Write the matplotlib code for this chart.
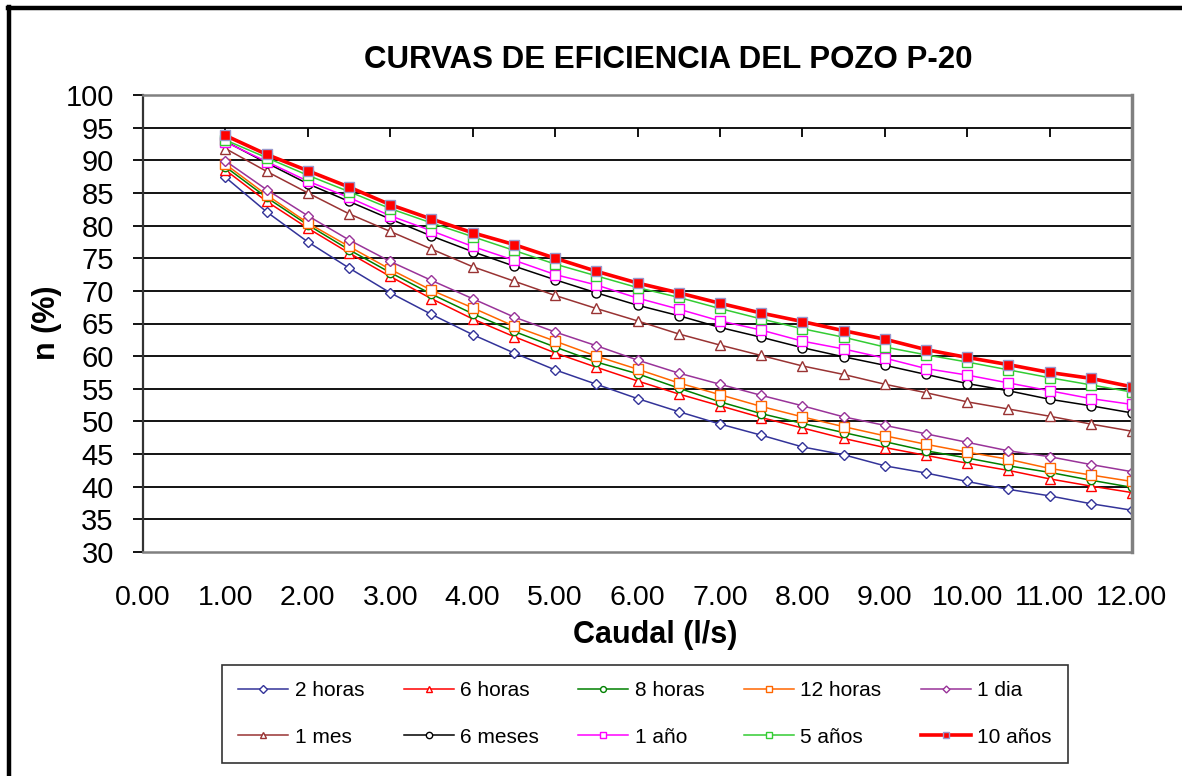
"""Curvas de eficiencia del pozo P-20."""

import matplotlib

matplotlib.use("Agg")

import matplotlib.pyplot as plt
from matplotlib.lines import Line2D


# ===========================
# Datos
# ===========================

caudal = [1.0, 1.5, 2.0, 2.5, 3.0, 3.5, 4.0, 4.5, 5.0, 5.5, 6.0, 6.5,
          7.0, 7.5, 8.0, 8.5, 9.0, 9.5, 10.0, 10.5, 11.0, 11.5, 12.0]

dos_horas = [87.4, 82.1, 77.5, 73.5, 69.7, 66.4, 63.3, 60.5, 57.9, 55.7, 53.5, 51.5,
             49.6, 47.9, 46.1, 44.9, 43.2, 42.1, 40.8, 39.6, 38.6, 37.4, 36.4]
seis_horas = [88.5, 83.7, 79.6, 75.8, 72.2, 68.8, 65.7, 63.0, 60.5, 58.3, 56.2, 54.2,
              52.4, 50.6, 49.0, 47.4, 46.0, 44.8, 43.6, 42.5, 41.2, 40.1, 39.1]
ocho_horas = [89.0, 84.3, 80.1, 76.3, 72.8, 69.5, 66.5, 63.8, 61.4, 59.1, 57.3, 55.1,
              53.0, 51.2, 49.7, 48.3, 46.9, 45.5, 44.4, 43.2, 42.2, 41.0, 39.9]
doce_horas = [89.4, 84.7, 80.4, 76.8, 73.3, 70.1, 67.4, 64.6, 62.3, 60.0, 58.0, 55.9,
              54.1, 52.3, 50.7, 49.2, 47.8, 46.5, 45.3, 44.2, 42.8, 41.8, 40.8]
un_dia = [89.9, 85.5, 81.5, 77.8, 74.5, 71.6, 68.8, 66.0, 63.7, 61.6, 59.4, 57.4,
          55.7, 54.0, 52.4, 50.7, 49.4, 48.1, 46.8, 45.5, 44.6, 43.4, 42.3]
un_mes = [91.8, 88.3, 85.0, 81.8, 79.1, 76.4, 73.7, 71.5, 69.3, 67.3, 65.4, 63.4,
          61.7, 60.1, 58.5, 57.2, 55.7, 54.4, 53.0, 51.9, 50.8, 49.6, 48.5]
seis_meses = [92.9, 89.6, 86.4, 83.7, 81.0, 78.4, 76.0, 73.8, 71.7, 69.7, 67.8, 66.2,
              64.4, 62.9, 61.3, 59.9, 58.6, 57.2, 55.8, 54.7, 53.4, 52.4, 51.3]
un_anio = [92.8, 89.8, 86.8, 84.3, 81.5, 79.2, 76.8, 74.7, 72.5, 70.9, 68.9, 67.2,
           65.4, 64.0, 62.3, 61.1, 59.7, 58.1, 57.1, 55.9, 54.7, 53.5, 52.6]
cinco_anios = [93.1, 90.4, 87.7, 85.2, 82.6, 80.4, 78.3, 76.2, 74.1, 72.3, 70.5, 69.0,
               67.3, 65.7, 64.2, 62.9, 61.4, 60.2, 59.1, 57.9, 56.7, 55.6, 54.5]
diez_anios = [93.8, 90.9, 88.4, 85.9, 83.2, 81.0, 78.9, 77.1, 75.0, 73.0, 71.2, 69.7,
              68.1, 66.6, 65.3, 63.9, 62.6, 61.0, 59.8, 58.7, 57.5, 56.6, 55.3]

etiquetas = ["2 horas", "6 horas", "8 horas", "12 horas", "1 dia",
             "1 mes", "6 meses", "1 año", "5 años", "10 años"]

x_ticks = list(range(0, 13))
y_ticks = list(range(30, 101, 5))

# ===========================
# Estilos (color, marcador, tamaño)
# ===========================

series = [
    (dos_horas, "#333399", "D", 5.5),
    (seis_horas, "#FF0000", "^", 6.5),
    (ocho_horas, "#008000", "o", 6),
    (doce_horas, "#FF6600", "s", 7),
    (un_dia, "#993399", "D", 5),
    (un_mes, "#993333", "^", 7),
    (seis_meses, "#000000", "o", 6.5),
    (un_anio, "#FF00FF", "s", 7),
    (cinco_anios, "#33CC33", "s", 7),
]

plt.rcParams["font.family"] = ["Liberation Sans", "DejaVu Sans"]

fig = plt.figure(figsize=(11.82, 7.76), dpi=100)

ax = fig.add_axes([143 / 1182, 1 - 552 / 776, (1132 - 143) / 1182, (552 - 95) / 776])

for valores, color, marcador, tam in series:
    ax.plot(
        caudal,
        valores,
        color=color,
        linewidth=1.1,
        marker=marcador,
        markersize=tam,
        markerfacecolor="white",
        markeredgecolor=color,
        markeredgewidth=1.0,
    )

ax.plot(
    caudal,
    diez_anios,
    color="#FF0000",
    linewidth=2.6,
    marker="s",
    markersize=7,
    markerfacecolor="#FF0000",
    markeredgecolor="#9999CC",
    markeredgewidth=1.0,
)

ax.set_xlim(0, 12)
ax.set_ylim(30, 100)

# Rejilla horizontal negra
for y in y_ticks[1:-1]:
    ax.axhline(y, color="black", linewidth=1.3, zorder=0)

# Pequeñas marcas en la línea de 95
ax.vlines(x_ticks[1:], 93.5, 95, color="black", linewidth=1.3, zorder=0)

ax.set_xticks(x_ticks)
ax.set_xticklabels([f"{v:.2f}" for v in x_ticks])
ax.set_yticks(y_ticks)

ax.tick_params(axis="x", length=0, pad=24, labelsize=20.5)
ax.tick_params(axis="y", length=7, width=1.3, pad=14, labelsize=21, direction="out")

ax.spines["left"].set_color("#333333")
ax.spines["left"].set_linewidth(1.6)
for lado in ["top", "right", "bottom"]:
    ax.spines[lado].set_color("#808080")
ax.spines["top"].set_linewidth(1.8)
ax.spines["right"].set_linewidth(2.5)
ax.spines["bottom"].set_linewidth(1.8)

fig.text(668 / 1182, 1 - 60 / 776, "CURVAS DE EFICIENCIA DEL POZO P-20",
         ha="center", va="center", fontsize=22.5, fontweight="bold")
fig.text(47 / 1182, 1 - 323 / 776, "n (%)", rotation=90,
         ha="center", va="center", fontsize=22, fontweight="bold")
fig.text(655 / 1182, 1 - 635 / 776, "Caudal (l/s)",
         ha="center", va="center", fontsize=22, fontweight="bold")

# La leyenda se llena por columnas: se reordena para leer por filas
lineas = ax.get_lines()[:10]
orden = [0, 5, 1, 6, 2, 7, 3, 8, 4, 9]

leyenda = fig.legend(
    [lineas[i] for i in orden],
    [etiquetas[i] for i in orden],
    ncol=5,
    loc="center",
    bbox_to_anchor=(645 / 1182, 1 - 714 / 776),
    fontsize=15,
    frameon=True,
    fancybox=False,
    edgecolor="black",
    handlelength=2.4,
    handletextpad=0.3,
    columnspacing=1.9,
    labelspacing=1.3,
    borderpad=0.8,
    markerscale=0.7,
)
leyenda.get_frame().set_linewidth(1.2)

# Marco exterior (recortado a la derecha y abajo)
fig.add_artist(Line2D([8 / 1182, 1], [1 - 8 / 776, 1 - 8 / 776],
                      transform=fig.transFigure, color="black", linewidth=3.2))
fig.add_artist(Line2D([9 / 1182, 9 / 1182], [0, 1 - 7 / 776],
                      transform=fig.transFigure, color="black", linewidth=3.2))

fig.savefig("out.png", dpi=100)
